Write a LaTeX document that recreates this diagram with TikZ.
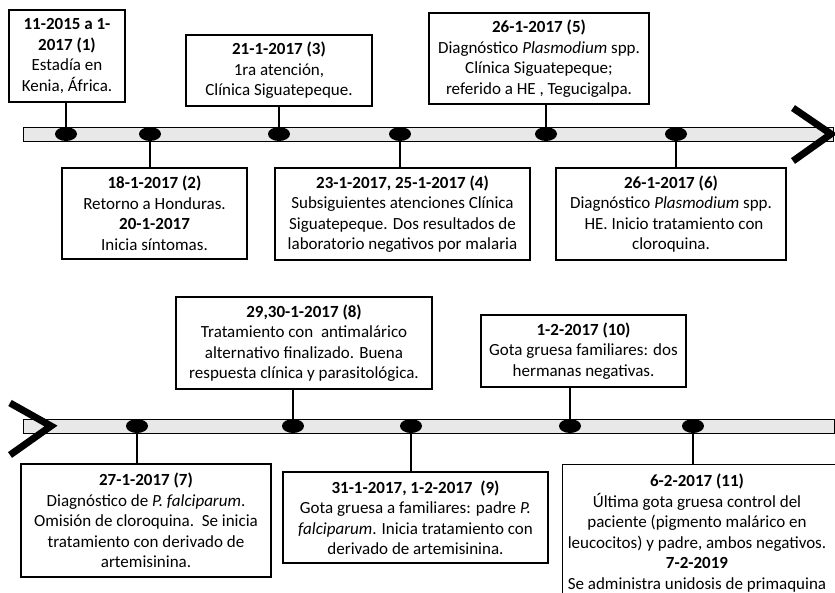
\documentclass[tikz,border=0pt]{standalone}
\usepackage{fontspec}
\setmainfont{Carlito}
\usetikzlibrary{shapes.geometric}
\definecolor{bargray}{RGB}{232,232,232}
\begin{document}
\begin{tikzpicture}[x=1pt,y=-1pt,
  box/.style={draw,line width=1.2,align=center,inner sep=0,font=\fontsize{17}{20.5}\selectfont},
  dot/.style={ellipse,fill=black,minimum width=22,minimum height=14,inner sep=0},
  link/.style={line width=1.6},
  chevron/.style={line width=7,miter limit=10}]
\useasboundingbox (0,0) rectangle (835,592);
\clip (0,0) rectangle (835,592);
\fill[white] (0,0) rectangle (835,592);
\draw[fill=bargray] (23,127) rectangle (833,141);
\draw[fill=bargray] (23,419) rectangle (834,433);
\draw[chevron] (793,108) -- (831,134) -- (793,161);
\draw[chevron] (10,403) -- (51,426) -- (10,455);
\node[dot] (d1) at (66,134) {};
\node[dot] (d2) at (150,134) {};
\node[dot] (d3) at (279,134) {};
\node[dot] (d4) at (400,134) {};
\node[dot] (d5) at (546,134) {};
\node[dot] (d6) at (676,134) {};
\node[dot] (d7) at (137,426) {};
\node[dot] (d8) at (293,426) {};
\node[dot] (d9) at (411,426) {};
\node[dot] (d10) at (570,426) {};
\node[dot] (d11) at (693,426) {};
\node[box,minimum width=116,minimum height=92] (b1) at (67,56)
  {\textbf{11-2015 a 1-}\\\textbf{2017 (1)}\\Estadía en\\Kenia, África.};
\node[box,minimum width=185,minimum height=91] (b2) at (154.5,213.5)
  {\textbf{18-1-2017 (2)}\\Retorno a Honduras.\\\textbf{20-1-2017}\\Inicia síntomas.};
\node[box,minimum width=186,minimum height=71] (b3) at (279,70.5)
  {\textbf{21-1-2017 (3)}\\1ra atención,\\Clínica Siguatepeque.};
\node[box,minimum width=255,minimum height=92] (b4) at (402.5,214)
  {\textbf{23-1-2017, 25-1-2017 (4)}\\Subsiguientes atenciones Clínica\\Siguatepeque. Dos resultados de\\laboratorio negativos por malaria};
\node[box,minimum width=220,minimum height=91] (b5) at (539,58.5)
  {\textbf{26-1-2017 (5)}\\Diagnóstico \textit{Plasmodium} spp.\\Clínica Siguatepeque;\\referido a HE , Tegucigalpa.};
\node[box,minimum width=230,minimum height=92] (b6) at (671,214)
  {\textbf{26-1-2017 (6)}\\Diagnóstico \textit{Plasmodium} spp.\\\hspace*{6pt}HE. Inicio tratamiento con\\cloroquina.};
\node[box,minimum width=250,minimum height=113] (b7) at (146,520.5)
  {\textbf{27-1-2017 (7)}\\Diagnóstico de \textit{P. falciparum}.\\Omisión de cloroquina.\ \ Se inicia\\tratamiento con derivado de\\artemisinina.};
\node[box,minimum width=256,minimum height=92] (b8) at (304,343)
  {\textbf{29,30-1-2017 (8)}\\Tratamiento con\ \ antimalárico\\alternativo finalizado. Buena\\respuesta clínica y parasitológica.};
\node[box,minimum width=265,minimum height=91] (b9) at (415.5,517.5)
  {\textbf{31-1-2017, 1-2-2017\ \ (9)}\\Gota gruesa a familiares: padre \textit{P.}\\\textit{falciparum}. Inicia tratamiento con\\derivado de artemisinina.};
\node[box,minimum width=205,minimum height=72] (b10) at (583.5,351)
  {\textbf{1-2-2017 (10)}\\Gota gruesa familiares: dos\\hermanas negativas.};
\node[box,anchor=north west,minimum width=290,minimum height=145] (b11) at (562,464) {};
\node[box,draw=none] (t11) at (697,533)
  {\textbf{6-2-2017 (11)}\\Última gota gruesa control del\\paciente (pigmento malárico en\\leucocitos) y padre, ambos negativos.\\\textbf{7-2-2019}\\Se administra unidosis de primaquina};
\draw[link] (d1) -- (d1 |- b1.south);
\draw[link] (d2) -- (d2 |- b2.north);
\draw[link] (d3) -- (d3 |- b3.south);
\draw[link] (d4) -- (d4 |- b4.north);
\draw[link] (d5) -- (d5 |- b5.south);
\draw[link] (d6) -- (d6 |- b6.north);
\draw[link] (d7) -- (d7 |- b7.north);
\draw[link] (d8) -- (d8 |- b8.south);
\draw[link] (d9) -- (d9 |- b9.north);
\draw[link] (d10) -- (d10 |- b10.south);
\draw[link] (d11) -- (d11 |- b11.north);
\end{tikzpicture}
\end{document}
